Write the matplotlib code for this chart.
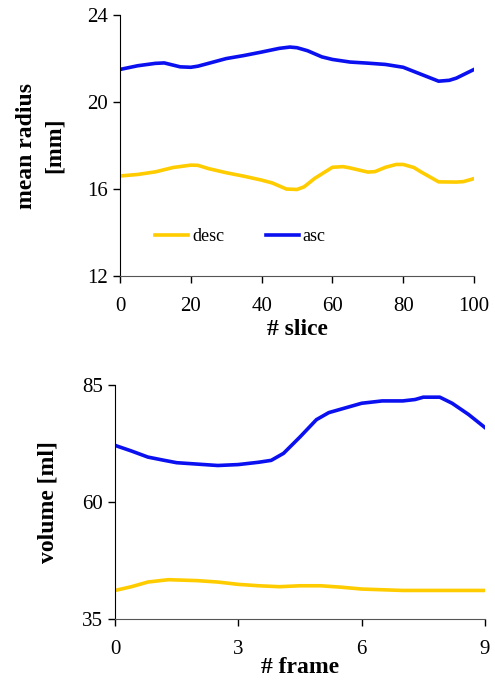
import matplotlib
matplotlib.use("Agg")
import matplotlib.pyplot as plt

# mean radius per slice
slice_x = [0, 5, 10, 12.5, 17, 20, 22, 25, 30, 35, 40, 45, 48, 50, 53, 57, 60, 65,
           70, 75, 80, 85, 90, 93, 95, 100]
asc_radius = [21.5, 21.67, 21.78, 21.8, 21.62, 21.6, 21.65, 21.78, 22.0, 22.14, 22.3,
              22.47, 22.53, 22.5, 22.36, 22.08, 21.96, 21.84, 21.79, 21.73, 21.6,
              21.28, 20.96, 21.0, 21.1, 21.5]
slice_x_desc = [0, 5, 10, 15, 20, 22, 25, 30, 35, 40, 43, 47, 50, 52, 55, 60, 63, 65,
                70, 72, 75, 78, 80, 83, 85, 90, 95, 97, 100]
desc_radius = [16.6, 16.67, 16.79, 16.99, 17.1, 17.09, 16.94, 16.75, 16.59, 16.41,
               16.28, 16.0, 15.98, 16.1, 16.49, 17.0, 17.03, 16.97, 16.78, 16.8, 17.0,
               17.13, 17.13, 16.99, 16.79, 16.33, 16.32, 16.34, 16.48]

# volume per frame
frame_x = [0, 0.4, 0.8, 1.2, 1.5, 2, 2.5, 3, 3.5, 3.8, 4.1, 4.5, 4.9, 5.2, 5.6, 6,
           6.5, 7, 7.3, 7.5, 7.9, 8.2, 8.6, 9]
asc_volume = [72.1, 70.9, 69.6, 68.9, 68.4, 68.1, 67.8, 68.0, 68.5, 68.9, 70.4, 73.9,
              77.6, 79.1, 80.1, 81.1, 81.6, 81.6, 81.9, 82.4, 82.4, 81.1, 78.7, 75.9]
frame_x_desc = [0, 0.4, 0.8, 1.3, 2, 2.5, 3, 3.5, 4, 4.5, 5, 5.5, 6, 7, 8, 9]
desc_volume = [41.1, 41.9, 42.9, 43.4, 43.2, 42.9, 42.4, 42.1, 41.9, 42.1, 42.1, 41.8,
               41.4, 41.1, 41.1, 41.1]

blue = "#0A10F0"
yellow = "#FFCC00"

plt.rcParams["font.family"] = ["Liberation Serif", "DejaVu Serif"]

fig = plt.figure(figsize=(4.95, 6.83), dpi=100)

def style(ax):
    ax.spines["top"].set_visible(False)
    ax.spines["right"].set_visible(False)
    ax.spines["left"].set_color("black")
    ax.spines["bottom"].set_color("#555555")
    ax.tick_params(direction="out", length=5, labelsize=15, width=1)
    ax.tick_params(axis="x", pad=10)

# haut : rayon moyen
ax1 = fig.add_axes([0.2424, 0.5959, 0.7152, 0.382])
ax1.plot(slice_x_desc, desc_radius, color=yellow, lw=2.6, label="desc")
ax1.plot(slice_x, asc_radius, color=blue, lw=2.6, label="asc")
ax1.set_xlim(0, 100)
ax1.set_ylim(12, 24)
ax1.set_xticks([0, 20, 40, 60, 80, 100])
ax1.set_yticks([12, 16, 20, 24])
style(ax1)
ax1.set_xlabel("# slice", fontsize=17, fontweight="bold", labelpad=2)
ax1.set_ylabel("mean radius\n[mm]", fontsize=17, fontweight="bold", labelpad=16,
               linespacing=1.45)
ax1.legend(loc="center left", bbox_to_anchor=(0.099, 0.152), ncol=2, frameon=False,
           fontsize=13, handlelength=1.85, handletextpad=0.2, columnspacing=2.3,
           borderpad=0, borderaxespad=0)

# bas : volume
ax2 = fig.add_axes([0.2323, 0.0937, 0.7475, 0.3426])
ax2.plot(frame_x_desc, desc_volume, color=yellow, lw=2.6)
ax2.plot(frame_x, asc_volume, color=blue, lw=2.6)
ax2.set_xlim(0, 9)
ax2.set_ylim(35, 85)
ax2.set_xticks([0, 3, 6, 9])
ax2.set_yticks([35, 60, 85])
style(ax2)
ax2.set_xlabel("# frame", fontsize=17, fontweight="bold", labelpad=-1)
ax2.set_ylabel("volume [ml]", fontsize=17, fontweight="bold", labelpad=17)

fig.savefig("out.png", dpi=100)
